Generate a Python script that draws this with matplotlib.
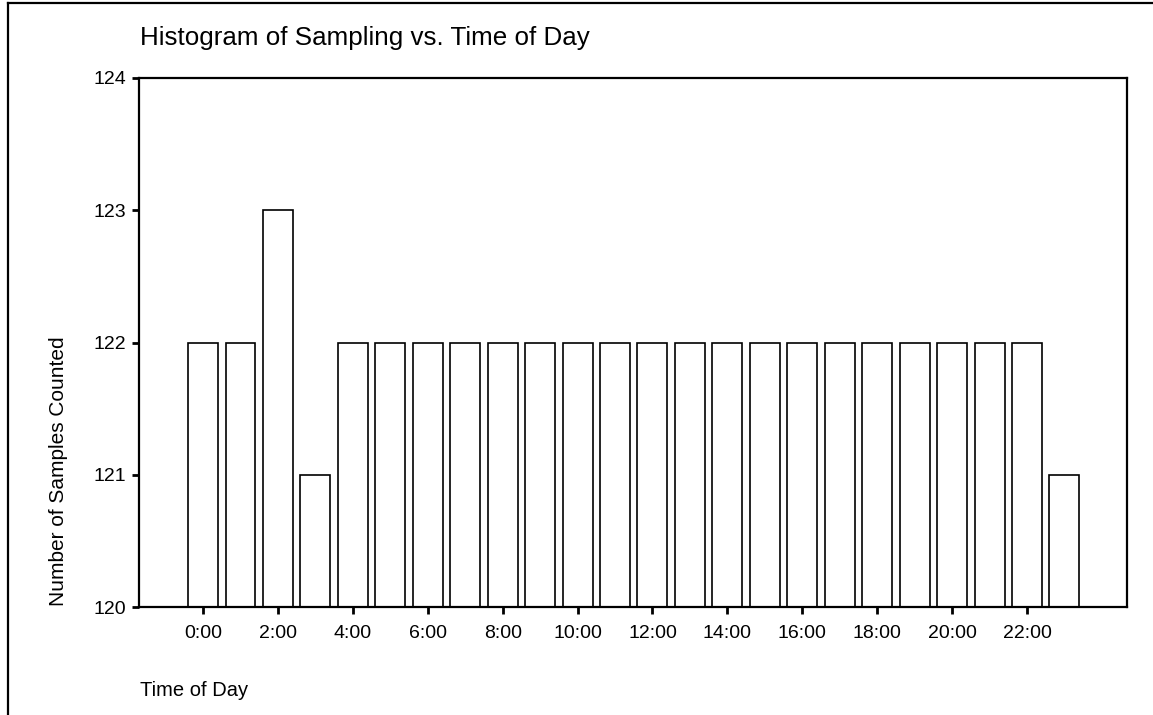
import matplotlib
matplotlib.use("Agg")
import matplotlib.pyplot as plt
from matplotlib.lines import Line2D

# ---- data ----
hours = list(range(24))
counts = [122, 122, 123, 121] + [122] * 19 + [121]
tick_hours = list(range(0, 24, 2))
tick_labels = [f"{h}:00" for h in tick_hours]
y_ticks = [120, 121, 122, 123, 124]

plt.rcParams['font.family'] = ['Liberation Sans', 'DejaVu Sans']

W, H = 1153, 715
fig = plt.figure(figsize=(W / 100, H / 100), dpi=100)
fig.patch.set_facecolor("white")

# axes box in pixel units
left, right, top, bottom = 139, 1127, 78, 607
ax = fig.add_axes([left / W, (H - bottom) / H, (right - left) / W, (bottom - top) / H])

ax.bar(hours, counts, width=0.8, color="white", edgecolor="black", linewidth=1.2)

ax.set_xlim(-1.71, 24.67)
ax.set_ylim(120, 124)
ax.set_xticks(tick_hours)
ax.set_xticklabels(tick_labels)
ax.set_yticks(y_ticks)
ax.tick_params(axis="both", labelsize=14, width=2, length=5, direction="out", colors="black")
ax.tick_params(axis="x", pad=8)
ax.tick_params(axis="y", pad=4)
for s in ax.spines.values():
    s.set_linewidth(1.6)

# titles / labels placed like the original layout
fig.text(140 / W, 1 - 38 / H, "Histogram of Sampling vs. Time of Day",
         fontsize=18.7, ha="left", va="center")
fig.text(140 / W, 1 - 690 / H, "Time of Day", fontsize=14.5, ha="left", va="center")
fig.text(58 / W, 1 - 606 / H, "Number of Samples Counted", fontsize=15,
         rotation=90, ha="center", va="bottom")

# outer frame (left and top edge visible)
fig.add_artist(Line2D([8 / W, 8 / W], [0, 1 - 3 / H], transform=fig.transFigure,
                      color="black", linewidth=1.6))
fig.add_artist(Line2D([8 / W, 1], [1 - 3 / H, 1 - 3 / H], transform=fig.transFigure,
                      color="black", linewidth=1.6))

fig.savefig("out.png", dpi=100)
